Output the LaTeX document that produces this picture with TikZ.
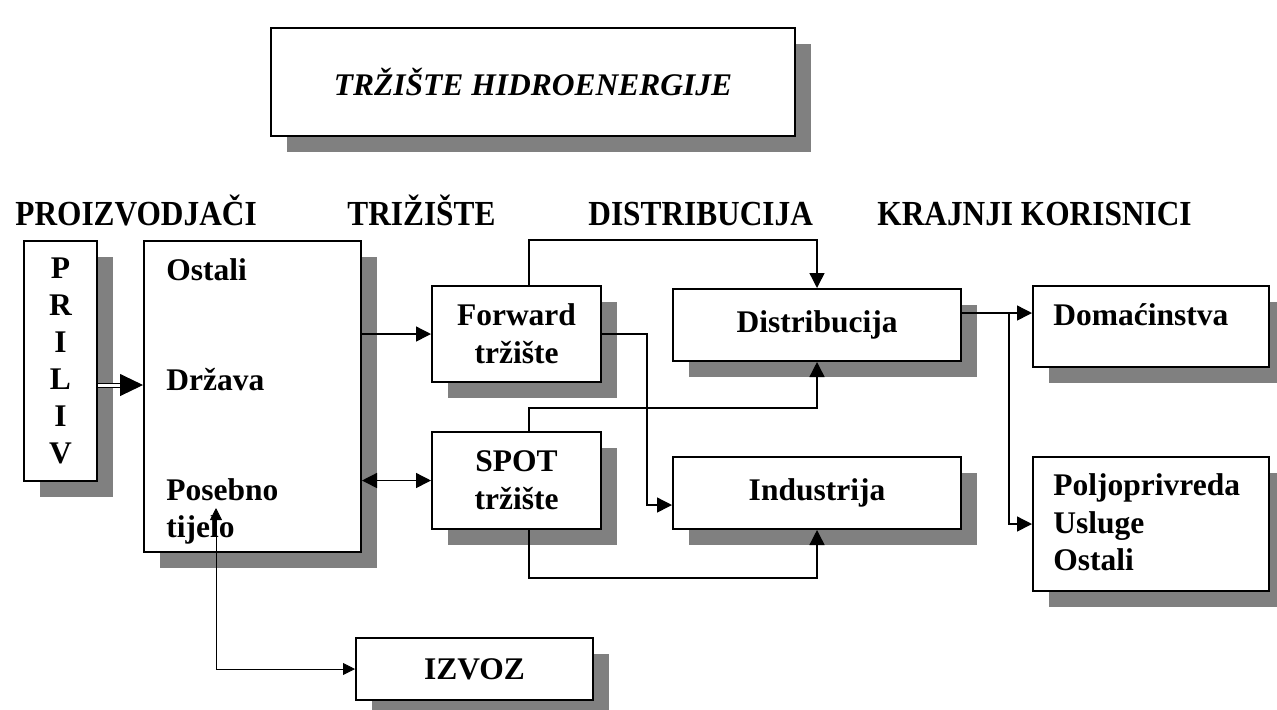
\documentclass[tikz,border=0pt]{standalone}
\usepackage{fontspec}
\setmainfont{Liberation Serif}
\newfontfamily\headfont{Liberation Serif}[FakeStretch = 0.89]
\usetikzlibrary{arrows.meta}
\usetikzlibrary{shadows}

\begin{document}
\begin{tikzpicture}[x = 0.5pt, y = -0.5pt, font = \fontsize{15.75}{19}\selectfont\bfseries]
	\tikzstyle{boxStyle}=[draw, line width = 1pt, fill = white, inner sep = 0pt, align = center, drop shadow = {shadow xshift = 8pt, shadow yshift = -8pt, fill = gray, opacity = 1}]
	\tikzstyle{textStyle}=[inner sep = 0pt, anchor = base west]
	\tikzstyle{headStyle}=[textStyle, font = \headfont\fontsize{17.6}{19}\selectfont\bfseries]
	\tikzstyle{arrowStyle}=[line width = 0.7pt, -{Triangle[length = 7.5pt, width = 7.5pt]}]
	\tikzstyle{thinStyle}=[line width = 0.4pt, {Triangle[length = 6pt, width = 6pt]}-{Triangle[length = 6pt, width = 6pt]}]
	\useasboundingbox (0,0) rectangle (1277,709);
	% boxes
	\node[boxStyle, minimum width = 262pt, minimum height = 54pt, font = \fontsize{15.75}{19}\selectfont\bfseries\itshape] (title) at (533,82) {TRŽIŠTE HIDROENERGIJE};
	\node[boxStyle, minimum width = 36.5pt, minimum height = 120pt, font = \fontsize{15.75}{18.5}\selectfont\bfseries] (priliv) at (60.5,361) {P\\R\\I\\L\\I\\V};
	\node[boxStyle, minimum width = 108.5pt, minimum height = 155.5pt] (main) at (252.5,396.5) {};
	\node[boxStyle, minimum width = 84.5pt, minimum height = 48pt] (forward) at (516.5,334) {Forward\\tržište};
	\node[boxStyle, minimum width = 84.5pt, minimum height = 48.5pt] (spot) at (516.5,480.5) {SPOT\\tržište};
	\node[boxStyle, minimum width = 144pt, minimum height = 36pt] (distr) at (817,325) {Distribucija};
	\node[boxStyle, minimum width = 144pt, minimum height = 36pt] (industr) at (817,493) {Industrija};
	\node[boxStyle, minimum width = 118pt, minimum height = 40.5pt] (domac) at (1151,326.5) {};
	\node[boxStyle, minimum width = 118pt, minimum height = 67pt] (poljo) at (1151,524) {};
	\node[boxStyle, minimum width = 118.5pt, minimum height = 31pt] (izvoz) at (474.5,669) {IZVOZ};
	% headings
	\node[headStyle] (hProiz) at (15,225) {PROIZVODJAČI};
	\node[headStyle] (hTrz) at (347,225) {TRIŽIŠTE};
	\node[headStyle] (hDistr) at (588,225) {DISTRIBUCIJA};
	\node[headStyle] (hKraj) at (877,225) {KRAJNJI KORISNICI};
	% texts in boxes
	\node[textStyle] (ostali) at (166,280) {Ostali};
	\node[textStyle] (drzava) at (166,390) {Država};
	\node[textStyle] (posebno) at (166,500) {Posebno};
	\node[textStyle] (tijelo) at (166,537) {tijelo};
	\node[textStyle] (domacTxt) at (1053,325) {Domaćinstva};
	\node[textStyle] (poljoTxt) at (1053,495) {Poljoprivreda};
	\node[textStyle] (usluge) at (1053,533) {Usluge};
	\node[textStyle] (ostaliK) at (1053,570) {Ostali};
	\coordinate (posebnoTip) at (216,508);
	% connectors
	\draw[line width = 0.5pt, double distance = 1.5pt, shorten > = 10pt] ([yshift = -12pt]priliv.east) -- ([yshift = -12pt]priliv.east -| main.west);
	\draw[line width = 0.5pt, shorten < = 12pt, -{Triangle[length = 11.5pt, width = 11pt]}] ([yshift = -12pt]priliv.east) -- ([yshift = -12pt]priliv.east -| main.west);
	\draw[arrowStyle] (forward.west -| main.east) -- (forward.west);
	\draw[arrowStyle, {Triangle[length = 7.5pt, width = 7.5pt]}-{Triangle[length = 7.5pt, width = 7.5pt]}] (spot.west -| main.east) -- (spot.west);
	\draw[arrowStyle] ([xshift = 6.25pt]forward.north) -- ++(0,-45) -| (distr.north);
	\draw[arrowStyle] (forward.east) -| ++(45,171) -- ([yshift = -6pt]industr.west);
	\draw[arrowStyle] ([xshift = 6.25pt]spot.north) -- ++(0,-23) -| (distr.south);
	\draw[arrowStyle] ([xshift = 6.25pt]spot.south) -- ++(0,48) -| (industr.south);
	\draw[arrowStyle] ([yshift = 6pt]distr.east) -- ([yshift = 6pt]distr.east -| domac.west);
	\draw[arrowStyle] ([yshift = 6pt]distr.east) -- ++(47,0) |- (poljo.west);
	\draw[thinStyle] (posebnoTip) |- (izvoz.west);
\end{tikzpicture}
\end{document}
